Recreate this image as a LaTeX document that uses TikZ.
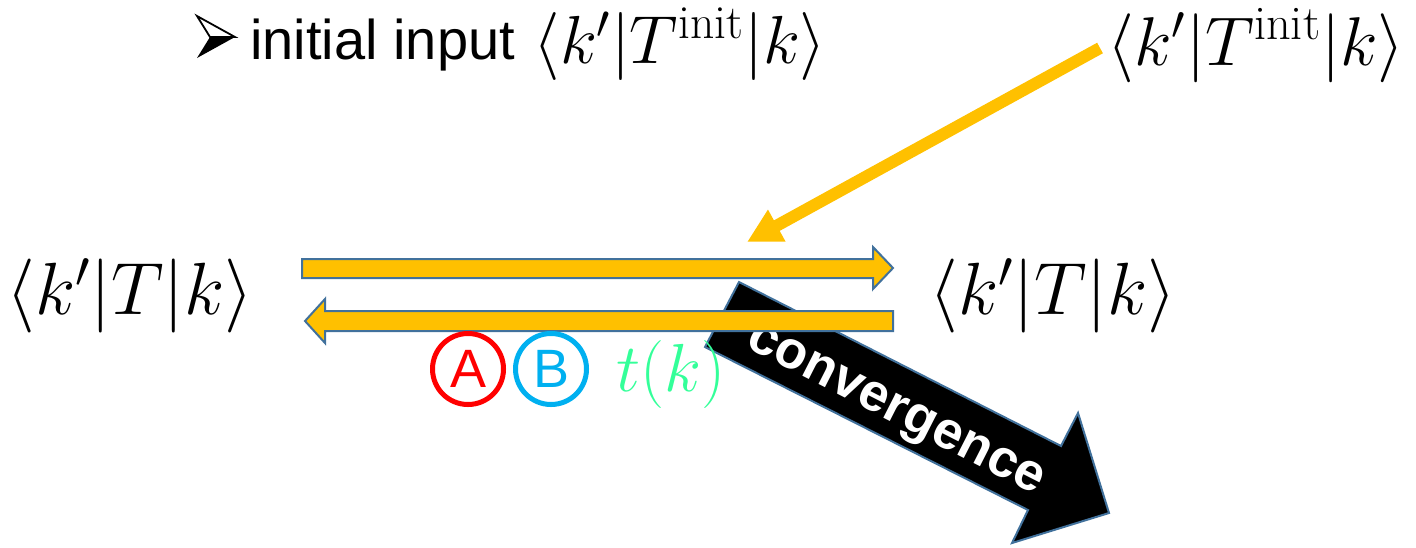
\RequirePackage{fix-cm}
\documentclass[tikz,border=0pt]{standalone}
\usepackage{fontspec}
\newfontfamily\sansf{Liberation Sans}
\usetikzlibrary{arrows.meta}
\definecolor{arrowyellow}{HTML}{FFC000}
\definecolor{edgeblue}{HTML}{41719C}
\definecolor{circred}{HTML}{FF0000}
\definecolor{circblue}{HTML}{00B0F0}
\definecolor{tkgreen}{HTML}{33FF99}
\tikzset{
  mathbig/.style={inner sep=0, anchor=base, font=\fontsize{37}{44}\selectfont},
  mathinit/.style={inner sep=0, anchor=base, font=\fontsize{34.5}{41}\selectfont},
  blockarrow/.style={fill=arrowyellow, draw=edgeblue, line width=1pt, line join=miter},
  feedline/.style={draw=arrowyellow, line width=6pt, -{Triangle[length=17pt,width=17pt]}},
  convarrow/.style={fill=black, draw=edgeblue, line width=1pt, line join=miter},
  circlabel/.style={circle, line width=2.5pt, minimum size=35.5pt, inner sep=0,
    font=\fontsize{27}{32}\selectfont\sansf},
  bulletline/.style={draw=black, line width=0.9pt, line join=miter},
}
\begin{document}
\begin{tikzpicture}[x=0.5pt,y=-0.5pt]
\useasboundingbox (0,0) rectangle (1416,547);

% title line: 3-D arrowhead bullet
\coordinate (btop) at (197,16);
\coordinate (btip) at (235,37);
\coordinate (bbot) at (197,58);
\coordinate (bnotch) at (210,37);
\fill[black] (bnotch) -- (btip) -- (bbot) -- cycle;
\draw[bulletline, fill=white] (bnotch) -- (btop) -- (btip) -- cycle;
\node[inner sep=0, anchor=base west, font=\fontsize{28}{34}\selectfont\sansf] (title) at (250,59) {initial input};
\node[mathinit, font=\fontsize{34}{41}\selectfont] (tinit) at (680,63) {$\langle k'|T^{\mathrm{init}}|k\rangle$};

% formulas
\node[mathinit] (Tinit) at (1256,65) {$\langle k'|T^{\mathrm{init}}|k\rangle$};
\node[mathbig] (L) at (130,314) {$\langle k'|T|k\rangle$};
\node[mathbig] (R) at (1053,314) {$\langle k'|T|k\rangle$};

% convergence arrow
\coordinate (convtail) at (722,314.5);
\coordinate (convtip) at (1109,513);
\draw[convarrow] (739,282) -- (1061,446) -- (1078,413) -- (convtip) -- (1012,543) -- (1028,510) -- (705,347) -- cycle;
\node[inner sep=0, text=white, rotate=-27, font=\fontsize{26.5}{32}\selectfont\sansf\bfseries] (conv) at (894,413) {convergence};

% iteration arrows
\coordinate (fwdstart) at (302,268.5);
\coordinate (fwdtip) at (893,268);
\draw[blockarrow] (302,259) -- (873,259) -- (873,247) -- (fwdtip) -- (873,289) -- (873,278) -- (302,278) -- cycle;
\coordinate (bwdstart) at (893,321);
\coordinate (bwdtip) at (305,321);
\draw[blockarrow] (893,311) -- (325,311) -- (325,299) -- (bwdtip) -- (325,343) -- (325,331) -- (893,331) -- cycle;

% initial input feed
\coordinate (feedstart) at (1100,48);
\coordinate (feedend) at (747,242);
\draw[feedline] (feedstart) -- (feedend);

% labels under the arrows
\node[circlabel, draw=circred, text=circred] (A) at (468,369) {A};
\node[circlabel, draw=circblue, text=circblue] (B) at (551,369) {B};
\node[inner sep=0, anchor=base, text=tkgreen, font=\fontsize{34}{41}\selectfont] (tk) at (671,391) {$t(k)$};
\end{tikzpicture}
\end{document}
